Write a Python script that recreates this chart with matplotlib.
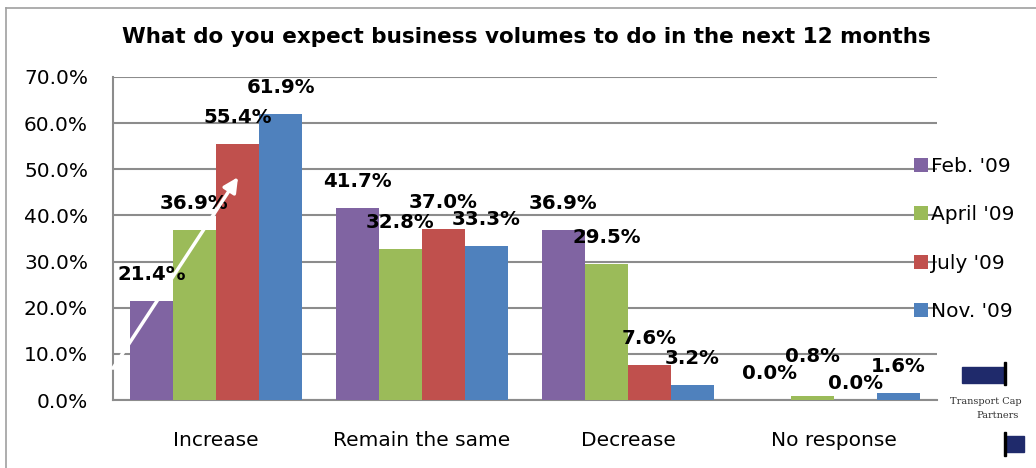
import numpy as np
import matplotlib
matplotlib.use('Agg')
import matplotlib.pyplot as plt
from matplotlib.patches import Rectangle, Patch
from matplotlib.lines import Line2D

categories = ['Increase', 'Remain the same', 'Decrease', 'No response']
series = ["Feb. '09", "April '09", "July '09", "Nov. '09"]
feb_09 = [21.4, 41.7, 36.9, 0.0]
apr_09 = [36.9, 32.8, 29.5, 0.8]
jul_09 = [55.4, 37.0, 7.6, 0.0]
nov_09 = [61.9, 33.3, 3.2, 1.6]
yticks = [0, 10, 20, 30, 40, 50, 60, 70]
title = 'What do you expect business volumes to do in the next 12 months'

colors = ['#8064A2', '#9BBB59', '#C0504D', '#4F81BD']
grid_c = '#8C8C8C'

W, H = 1036, 468
fig = plt.figure(figsize=(W / 100, H / 100), dpi=100)
ax = fig.add_axes([113 / W, 1 - 400 / H, 824 / W, 323 / H])

x = np.arange(len(categories))
bw = 0.209
all_vals = [feb_09, apr_09, jul_09, nov_09]
# manual nudges (in px) for labels that Excel moved around
nudge = {(1, 3): 13, (2, 3): -10}
for i, (vals, c, name) in enumerate(zip(all_vals, colors, series)):
    xs = x + (i - 1.5) * bw
    ax.bar(xs, vals, width=bw, color=c, zorder=3, label=name)
    for j, (xx, v) in enumerate(zip(xs, vals)):
        off = 26.5 + nudge.get((i, j), 0)
        ax.annotate(f'{v:.1f}%', (xx, v), xytext=(0, off * 0.72),
                    textcoords='offset points', ha='center', va='center',
                    fontsize=14.2, fontweight='bold', zorder=5)

ax.set_xlim(-0.5, 3.5)
ax.set_ylim(0, 70)
ax.set_yticks(yticks)
ax.set_yticklabels([f'{t:.1f}%' for t in yticks], fontsize=14.5)
ax.set_xticks(x)
ax.set_xticklabels(categories, fontsize=14.5)
ax.tick_params(axis='y', length=0, pad=18)
ax.tick_params(axis='x', length=0, pad=22)
ax.yaxis.grid(True, color=grid_c, lw=1.5, zorder=0)
for s in ['top', 'right']:
    ax.spines[s].set_visible(False)
for s in ['left', 'bottom']:
    ax.spines[s].set_color(grid_c)
    ax.spines[s].set_linewidth(1.5)

# white trend arrow
ax.annotate('', xy=(0.107, 48.3), xytext=(-0.5, 6.9),
            arrowprops=dict(arrowstyle='-|>', color='white', lw=2.5,
                            mutation_scale=22, shrinkA=0, shrinkB=0),
            annotation_clip=False, zorder=6)

handles = [Patch(facecolor=c) for c in colors]
fig.legend(handles, series, loc='center left', bbox_to_anchor=(906 / W, 1 - 239 / H),
           frameon=False, fontsize=14.5, handlelength=0.7, handleheight=0.7,
           handletextpad=0.15, labelspacing=1.45, borderaxespad=0)

fig.text(526 / W, 1 - 37 / H, title, ha='center', va='center',
         fontsize=15.5, fontweight='bold')

# chart border (left and top edges)
fig.add_artist(Line2D([6 / W, 6 / W], [0, 1 - 8 / H], transform=fig.transFigure,
                      color='#A0A0A0', lw=1.2))
fig.add_artist(Line2D([6 / W, 1], [1 - 8 / H, 1 - 8 / H], transform=fig.transFigure,
                      color='#A0A0A0', lw=1.2))

# small logo in the corner
def px_rect(x0, y0, x1, y1, **kw):
    fig.add_artist(Rectangle((x0 / W, 1 - y1 / H), (x1 - x0) / W, (y1 - y0) / H,
                             transform=fig.transFigure, **kw))

px_rect(962, 367, 1005, 383, color='#1F2A6B')
px_rect(1004, 362, 1006, 385, color='black')
px_rect(1006, 436, 1024, 452, color='#1F2A6B')
px_rect(1004, 432, 1006, 456, color='black')
fig.text(986 / W, 1 - 402 / H, 'Transport Cap', fontsize=7, family='serif',
         ha='center', va='center', color='#333333')
fig.text(998 / W, 1 - 415 / H, 'Partners', fontsize=7, family='serif',
         ha='center', va='center', color='#333333')

fig.savefig('out.png', dpi=100)
